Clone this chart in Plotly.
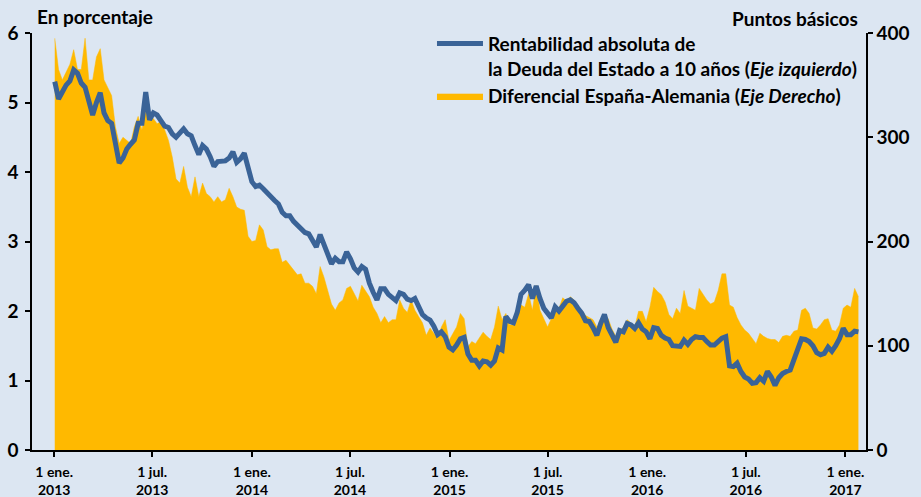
import pandas as pd
import plotly.graph_objects as go

# Weekly sampling dates (Wednesdays) from 2 Jan 2013 to 25 Jan 2017
dates = pd.date_range("2013-01-02", periods=213, freq="7D")

# 10-year Spanish government bond yield (%), left axis
yield_10y = [
    5.30, 5.05, 5.15, 5.25, 5.31, 5.47, 5.42, 5.28, 5.22, 5.00,
    4.82, 5.00, 5.14, 4.85, 4.74, 4.70, 4.42, 4.13, 4.20, 4.33,
    4.40, 4.46, 4.70, 4.70, 5.15, 4.75, 4.85, 4.82, 4.74, 4.66,
    4.64, 4.55, 4.50, 4.55, 4.62, 4.55, 4.52, 4.38, 4.25, 4.38,
    4.33, 4.22, 4.08, 4.15, 4.16, 4.16, 4.20, 4.29, 4.14, 4.19,
    4.27, 4.08, 3.86, 3.79, 3.81, 3.76, 3.70, 3.63, 3.59, 3.54,
    3.42, 3.37, 3.37, 3.29, 3.23, 3.19, 3.13, 3.11, 3.01, 2.92,
    3.10, 2.95, 2.82, 2.68, 2.76, 2.71, 2.71, 2.85, 2.75, 2.62,
    2.56, 2.64, 2.60, 2.40, 2.27, 2.16, 2.32, 2.32, 2.24, 2.20,
    2.15, 2.26, 2.24, 2.17, 2.15, 2.18, 2.06, 1.95, 1.90, 1.87,
    1.78, 1.66, 1.70, 1.63, 1.48, 1.44, 1.51, 1.60, 1.62, 1.38,
    1.29, 1.29, 1.21, 1.28, 1.27, 1.22, 1.28, 1.47, 1.44, 1.92,
    1.85, 1.83, 1.98, 2.24, 2.30, 2.38, 2.18, 2.36, 2.18, 2.04,
    1.97, 1.90, 2.06, 2.00, 2.07, 2.14, 2.16, 2.12, 2.04, 1.97,
    1.86, 1.85, 1.76, 1.65, 1.82, 1.95, 1.76, 1.66, 1.55, 1.72,
    1.70, 1.82, 1.80, 1.75, 1.83, 1.74, 1.70, 1.60, 1.76, 1.75,
    1.65, 1.61, 1.59, 1.50, 1.50, 1.49, 1.58, 1.52, 1.59, 1.63,
    1.62, 1.62, 1.56, 1.51, 1.51, 1.56, 1.61, 1.63, 1.21, 1.20,
    1.25, 1.13, 1.05, 1.02, 0.96, 0.97, 1.04, 0.99, 1.13, 1.05,
    0.93, 1.04, 1.10, 1.13, 1.15, 1.30, 1.48, 1.60, 1.59, 1.56,
    1.50, 1.40, 1.37, 1.39, 1.48, 1.42, 1.50, 1.60, 1.75, 1.66,
    1.66, 1.71, 1.70,
]

# Spain-Germany spread (basis points), right axis
spread_bp = [
    395, 365, 355, 362, 370, 384, 365, 365, 395, 355,
    355, 377, 385, 355, 348, 340, 310, 294, 300, 297,
    294, 310, 320, 307, 326, 316, 318, 313, 315, 307,
    297, 281, 260, 256, 272, 252, 243, 262, 243, 256,
    246, 243, 238, 243, 238, 240, 251, 243, 233, 231,
    230, 205, 200, 201, 216, 211, 195, 192, 193, 193,
    180, 182, 177, 173, 168, 169, 160, 160, 157, 150,
    176, 166, 153, 140, 134, 141, 144, 155, 157, 150,
    143, 158, 153, 147, 137, 131, 122, 128, 122, 125,
    125, 144, 136, 132, 144, 134, 128, 122, 110, 117,
    112, 107, 118, 125, 105, 112, 118, 131, 126, 99,
    104, 102, 107, 113, 109, 106, 118, 138, 125, 131,
    120, 120, 134, 139, 137, 150, 134, 158, 134, 126,
    118, 126, 133, 136, 146, 143, 147, 144, 137, 134,
    129, 127, 125, 118, 122, 129, 126, 116, 109, 114,
    118, 125, 122, 118, 133, 133, 123, 137, 156, 152,
    149, 142, 130, 126, 136, 131, 153, 138, 136, 134,
    155, 149, 144, 140, 142, 153, 169, 169, 139, 137,
    127, 120, 115, 112, 107, 102, 112, 109, 107, 106,
    106, 103, 109, 110, 109, 114, 115, 134, 136, 131,
    117, 116, 120, 125, 126, 115, 114, 120, 136, 139,
    137, 155, 147,
]

tick_dates = ["2013-01-01", "2013-07-01", "2014-01-01", "2014-07-01", "2015-01-01",
              "2015-07-01", "2016-01-01", "2016-07-01", "2017-01-01"]
tick_labels = ["1 ene.<br>2013", "1 jul.<br>2013", "1 ene.<br>2014", "1 jul.<br>2014",
               "1 ene.<br>2015", "1 jul.<br>2015", "1 ene.<br>2016", "1 jul.<br>2016",
               "1 ene.<br>2017"]

BG = "#DCE6F2"
ORANGE = "#FFB900"
BLUE = "#3A6397"
FONT = "Lato, 'Open Sans', sans-serif"

fig = go.Figure()

fig.add_trace(go.Scatter(
    x=dates, y=spread_bp, yaxis="y", mode="lines",
    fill="tozeroy", fillcolor=ORANGE, line=dict(color=ORANGE, width=0.5),
    name="Diferencial España-Alemania (<i>Eje Derecho</i>)", legendrank=2,
))
fig.add_trace(go.Scatter(
    x=dates, y=yield_10y, yaxis="y2", mode="lines",
    line=dict(color=BLUE, width=5),
    name="Rentabilidad absoluta de<br>la Deuda del Estado a 10 años (<i>Eje izquierdo</i>)",
    legendrank=1,
))

axis_common = dict(showgrid=False, zeroline=False, showline=True, linecolor="black",
                   linewidth=1.5, ticks="outside", ticklen=5, tickwidth=1.5,
                   tickcolor="black", automargin=False)

fig.update_layout(
    width=921, height=497,
    margin=dict(l=32, r=55, t=33, b=47, autoexpand=False),
    paper_bgcolor=BG, plot_bgcolor=BG,
    font=dict(family=FONT, color="black", size=18),
    xaxis=dict(**axis_common, type="date", range=["2012-11-21", "2017-02-08"],
               tickvals=tick_dates, ticktext=tick_labels, ticklabelstandoff=3,
               tickfont=dict(size=14, family=FONT, weight="bold")),
    yaxis=dict(**axis_common, side="right", range=[0, 400], tickvals=[0, 100, 200, 300, 400],
               tickfont=dict(size=19, family=FONT, weight="bold")),
    yaxis2=dict(**axis_common, side="left", overlaying="y", range=[0, 6],
                tickvals=[0, 1, 2, 3, 4, 5, 6], ticklabelstandoff=3,
                tickfont=dict(size=19, family=FONT, weight="bold")),
    showlegend=True,
    legend=dict(x=0.4796, xanchor="left", y=1.02, yanchor="top",
                bgcolor="rgba(0,0,0,0)", itemwidth=46, valign="top",
                font=dict(size=19, family=FONT, weight="bold"),
                tracegroupgap=0),
    annotations=[
        dict(text="En porcentaje", xref="paper", yref="paper", x=0.003, y=1.04,
             xanchor="left", yanchor="middle", showarrow=False,
             font=dict(size=19, family=FONT, weight="bold")),
        dict(text="Puntos básicos", xref="paper", yref="paper", x=0.993, y=1.035,
             xanchor="right", yanchor="middle", showarrow=False,
             font=dict(size=19, family=FONT, weight="bold")),
    ],
)

fig.write_html(
    "out.html",
    config={"displayModeBar": False},
    post_script="document.body.style.margin='0';document.body.style.background='%s';" % BG,
)
